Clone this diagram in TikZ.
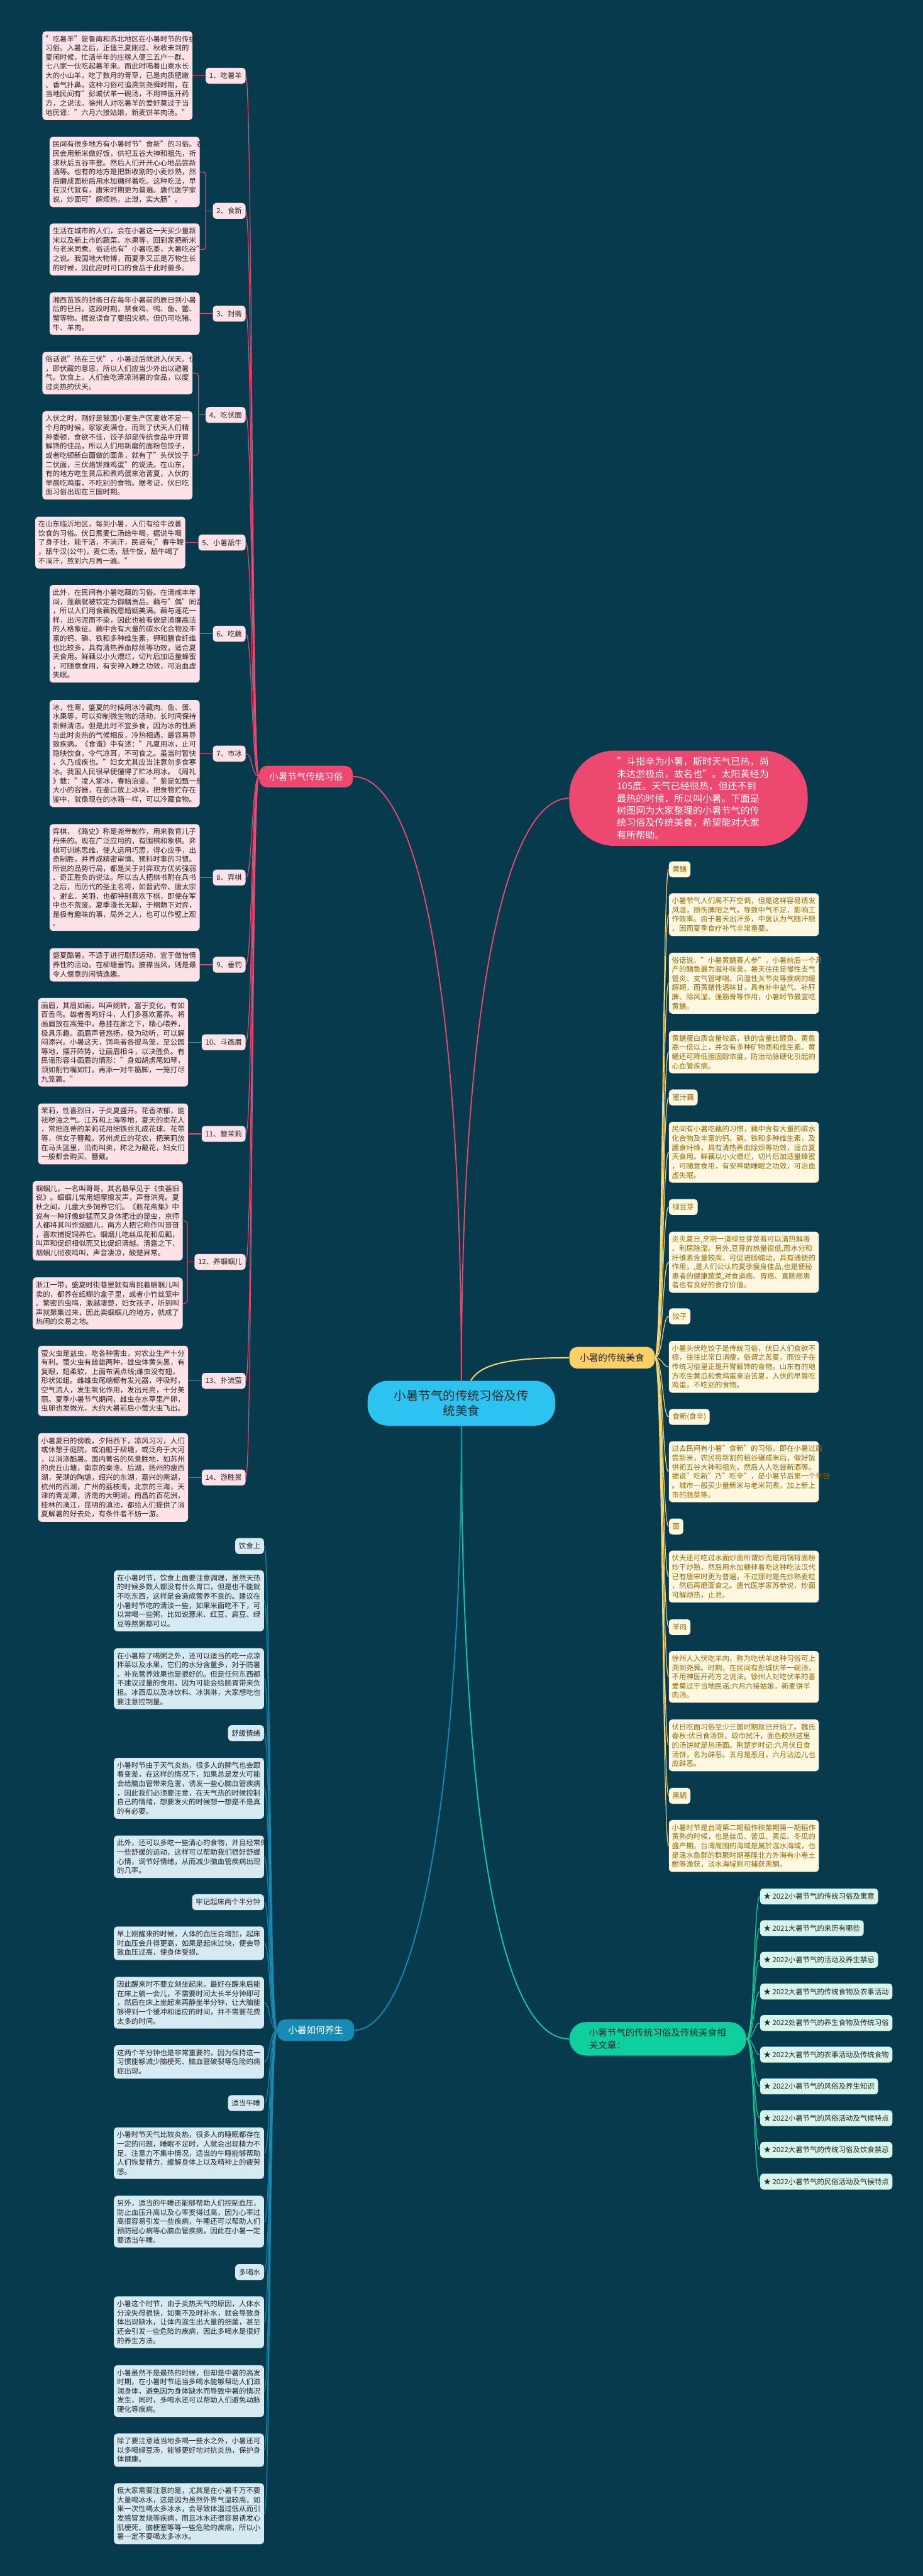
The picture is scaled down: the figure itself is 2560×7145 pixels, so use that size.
\documentclass[tikz,border=0pt]{standalone}
\usepackage{fontspec}
\setmainfont{Noto Sans CJK SC}
\definecolor{bgcol}{RGB}{7,58,76}
\definecolor{darktxt}{RGB}{38,38,38}
\definecolor{pinkmain}{RGB}{236,72,112}
\definecolor{pinkfill}{RGB}{253,226,232}
\definecolor{cyanmain}{RGB}{44,195,240}
\definecolor{goldmain}{RGB}{252,208,104}
\definecolor{goldline}{RGB}{246,212,116}
\definecolor{creamfill}{RGB}{255,248,224}
\definecolor{goldtxt}{RGB}{146,104,10}
\definecolor{bluemain}{RGB}{24,138,180}
\definecolor{bluefill}{RGB}{213,234,242}
\definecolor{greenmain}{RGB}{14,208,158}
\definecolor{mintfill}{RGB}{214,246,236}
\newcommand\smalltxt{\fontsize{5.66pt}{7.25pt}\selectfont}
\newcommand\midtxt{\fontsize{7.25pt}{9.65pt}\selectfont}
\tikzset{
  textbox/.style={rounded corners=0.09cm,text width=113.5pt,align=left,inner xsep=0.085cm,inner ysep=0.115cm,font=\smalltxt},
  tagbox/.style={rounded corners=0.09cm,inner xsep=0.1cm,inner ysep=0pt,minimum height=0.44cm,font=\smalltxt},
  pinkbox/.style={textbox,fill=pinkfill,text=darktxt},
  pinktag/.style={tagbox,fill=pinkfill,text=darktxt,anchor=east},
  goldbox/.style={textbox,fill=creamfill,text=goldtxt,anchor=west},
  goldtag/.style={tagbox,fill=creamfill,text=goldtxt,anchor=west},
  bluebox/.style={textbox,fill=bluefill,text=darktxt,anchor=east},
  bluetag/.style={tagbox,fill=bluefill,text=darktxt,anchor=east},
  arttag/.style={tagbox,fill=mintfill,text=darktxt,anchor=west},
  topicbox/.style={rounded corners=0.22cm,minimum height=0.6cm,inner xsep=0.28cm,font=\midtxt},
  pinkthin/.style={draw=pinkmain,line width=0.6pt},
  goldthin/.style={draw=goldline,line width=0.6pt},
  bluethin/.style={draw=bluemain,line width=0.6pt},
  greenthin/.style={draw=greenmain,line width=0.6pt}
}
\begin{document}
\begin{tikzpicture}[x=0.01cm,y=-0.01cm]
    \fill[bgcol] (0,0) rectangle (2560,7145);
    % centre and main topics
    \node[fill=cyanmain,text=darktxt,rounded corners=0.55cm,minimum width=5.2cm,minimum height=1.24cm,text width=107pt,align=center,font=\fontsize{9.65pt}{11.9pt}\selectfont] (ctr) at (1280,3892) {小暑节气的传统习俗及传\\统美食};
    \node[fill=pinkmain,text=white,rounded corners=1.25cm,minimum width=6.61cm,minimum height=2.64cm,text width=113pt,align=left,font=\fontsize{7.5pt}{9.65pt}\selectfont] (intro) at (1910,2214) {"斗指辛为小暑，斯时天气已热，尚\\未达淤极点，故名也"。太阳黄经为\\105度。天气已经很热，但还不到\\最热的时候，所以叫小暑。下面是\\树图网为大家整理的小暑节气的传\\统习俗及传统美食，希望能对大家\\有所帮助。};
    \node[topicbox,fill=pinkmain,text=white] (br) at (849,2154) {小暑节气传统习俗};
    \node[topicbox,fill=goldmain,text=darktxt,inner xsep=0.29cm] (food) at (1698,3766) {小暑的传统美食};
    \node[topicbox,fill=bluemain,text=white,inner xsep=0.3cm] (yang) at (876,5631) {小暑如何养生};
    \node[fill=greenmain,text=darktxt,rounded corners=0.46cm,minimum width=4.9cm,minimum height=0.93cm,text width=108.5pt,align=left,font=\fontsize{7.2pt}{9.7pt}\selectfont] (art) at (1825,5655) {小暑节气的传统习俗及传统美食相\\关文章：};

    % customs
    \node[pinkbox,anchor=west] (p1) at (117,210) {"吃暑羊"是鲁南和苏北地区在小暑时节的传统\\习俗。入暑之后，正值三夏刚过、秋收未到的\\夏闲时候，忙活半年的庄稼人便三五户一群、\\七八家一伙吃起暑羊来。而此时喝着山泉水长\\大的小山羊，吃了数月的青草，已是肉质肥嫩\\、香气扑鼻。这种习俗可追溯到尧舜时期，在\\当地民间有"彭城伏羊一碗汤，不用神医开药\\方，之说法。徐州人对吃暑羊的爱好莫过于当\\地民谣："六月六接姑娘，新麦饼羊肉汤。"};
    \node[pinkbox,anchor=west] (p2a) at (137,477) {民间有很多地方有小暑时节"食新"的习俗。农\\民会用新米做好饭，供祀五谷大神和祖先，祈\\求秋后五谷丰登。然后人们开开心心地品尝新\\酒等。也有的地方是把新收割的小麦炒熟，然\\后磨成面粉后用水加糖拌着吃。这种吃法，早\\在汉代就有，唐宋时期更为普遍。唐代医学家\\说，炒面可"解烦热，止泄，实大肠"。};
    \node[pinkbox,anchor=west] (p2b) at (137,692) {生活在城市的人们，会在小暑这一天买少量新\\米以及新上市的蔬菜、水果等，回到家把新米\\与老米同煮。俗话也有"小暑吃黍，大暑吃谷"\\之说。我国地大物博，而夏季又正是万物生长\\的时候，因此应时可口的食品于此时最多。};
    \node[pinkbox,anchor=west] (p3) at (137,870) {湘西苗族的封斋日在每年小暑前的辰日到小暑\\后的巳日。这段时期，禁食鸡、鸭、鱼、鳖、\\蟹等物。据说误食了要招灾祸，但仍可吃猪、\\牛、羊肉。};
    \node[pinkbox,anchor=west] (p4a) at (117,1035) {俗话说"热在三伏"，小暑过后就进入伏天。伏\\，即伏藏的意思，所以人们应当少外出以避暑\\气。饮食上，人们会吃清凉消暑的食品，以度\\过炎热的伏天。};
    \node[pinkbox,anchor=west] (p4b) at (117,1263) {入伏之时，刚好是我国小麦生产区麦收不足一\\个月的时候，家家麦满仓，而到了伏天人们精\\神委顿，食欲不佳，饺子却是传统食品中开胃\\解馋的佳品，所以人们用新磨的面粉包饺子，\\或者吃顿新白面做的面条，就有了"头伏饺子\\二伏面，三伏烙饼摊鸡蛋"的说法。在山东，\\有的地方吃生黄瓜和煮鸡蛋来治苦夏，入伏的\\早晨吃鸡蛋，不吃别的食物。据考证，伏日吃\\面习俗出现在三国时期。};
    \node[pinkbox,anchor=west] (p5) at (97,1505) {在山东临沂地区，每到小暑，人们有给牛改善\\饮食的习俗。伏日煮麦仁汤给牛喝，据说牛喝\\了身子壮，能干活，不淌汗，民谣有;"春牛鞭\\，舐牛汉(公牛)，麦仁汤，舐牛饭，舐牛喝了\\不淌汗，熬到六月再一遍。"};
    \node[pinkbox,anchor=west] (p6) at (137,1758) {此外，在民间有小暑吃藕的习俗。在清咸丰年\\间，莲藕就被钦定为御膳贡品。藕与"偶"同音\\，所以人们用食藕祝愿婚姻美满。藕与莲花一\\样，出污泥而不染，因此也被看做是清廉高洁\\的人格象征。藕中含有大量的碳水化合物及丰\\富的钙、磷、铁和多种维生素，钾和膳食纤维\\也比较多，具有清热养血除烦等功效，适合夏\\天食用。鲜藕以小火煨烂，切片后加适量蜂蜜\\，可随意食用，有安神入睡之功效，可治血虚\\失眠。};
    \node[pinkbox,anchor=west] (p7) at (137,2090) {冰，性寒，盛夏的时候用冰冷藏肉、鱼、蛋、\\水果等，可以抑制微生物的活动，长时间保持\\新鲜清洁。但是此时不宜多食，因为冰的性质\\与此时炎热的气候相反，冷热相遇，最容易导\\致疾病。《食谱》中有述："凡夏用冰，止可\\隐映饮食，令气凉耳，不可食之。虽当时暂快\\，久乃成疾也。"妇女尤其应当注意勿多食寒\\冰。我国人民很早便懂得了贮冰用冰。《周礼\\》载："凌人掌冰，春始治鉴。"鉴是如甄一般\\大小的容器，在鉴口放上冰块，把食物贮存在\\鉴中，就像现在的冰箱一样，可以冷藏食物。};
    \node[pinkbox,anchor=west] (p8) at (137,2434) {弈棋，《路史》称是尧帝制作，用来教育儿子\\丹朱的。现在广泛应用的，有围棋和象棋。弈\\棋可训练思维，使人运用巧思，得心应手，出\\奇制胜，并养成精密审慎、预料时事的习惯。\\所说的品势行局，都是关于对弈双方优劣强弱\\、奇正胜负的说法。所以古人把棋书附在兵书\\之后，而历代的圣主名将，如晋武帝、唐太宗\\、谢玄、关羽，也都特别喜欢下棋，即使在军\\中也不荒废。夏季漫长无聊，于桐荫下对弈，\\是极有趣味的事，局外之人，也可以作壁上观\\。};
    \node[pinkbox,anchor=west] (p9) at (137,2676) {盛夏酷暑，不适于进行剧烈运动，宜于做怡情\\养性的活动。在柳塘垂钓。披襟当风，则是最\\令人惬意的闲情逸趣。};
    \node[pinkbox,anchor=west] (p10) at (105,2891) {画眉，其眉如画，叫声婉转，富于变化，有如\\百舌鸟。雄者善鸣好斗，人们多喜欢蓄养。将\\画眉放在高笼中，悬挂在廊之下，精心喂养，\\极具乐趣。画眉声音悠扬，极为动听，可以解\\闷添兴。小暑这天，饲鸟者各提鸟笼，至公园\\等地，摆开阵势，让画眉相斗，以决胜负。有\\民谣形容斗画眉的情形："身如胡虏尾如琴，\\颈如削竹嘴如钉。再添一对牛筋脚，一笼打尽\\九笼赢。"};
    \node[pinkbox,anchor=west] (p11) at (105,3145) {茉莉，性喜烈日，于炎夏盛开。花香浓郁，能\\祛秽浊之气。江苏和上海等地，夏天的卖花人\\，常把连蒂的茉莉花用细铁丝扎成花球、花带\\等，供女子簪戴。苏州虎丘的花农，把茉莉放\\在马头篮里，沿街叫卖，称之为戴花，妇女们\\一般都会购买、簪戴。};
    \node[pinkbox,anchor=west] (p12a) at (90,3386) {蝈蝈儿，一名叫哥哥，其名最早见于《虫荟旧\\说》。蝈蝈儿常用翅摩擦发声，声音洪亮。夏\\秋之间，儿童大多饲养它们。《瓶花斋集》中\\说有一种好像蚌猛而又身体肥壮的昆虫，京师\\人都将其叫作烟蝈儿，南方人把它称作叫哥哥\\，喜欢捕捉饲养它。蝈烟儿吃丝瓜花和瓜瓤，\\叫声和促织相似而又比促织清越。清露之下，\\烟蝈儿彻夜鸣叫，声音凄凉，酸楚异常。};
    \node[pinkbox,anchor=west] (p12b) at (90,3615) {浙江一带，盛夏时街巷里就有肩挑着蝈蝈儿叫\\卖的，都养在纸糊的盒子里，或者小竹丝笼中\\。繁密的虫鸣，激越凄楚，妇女孩子，听到叫\\声就聚集过来，因此卖蝈蝈儿的地方，就成了\\热闹的交易之地。};
    \node[pinkbox,anchor=west] (p13) at (105,3830) {萤火虫是益虫，吃各种害虫，对农业生产十分\\有利。萤火虫有雌雄两种，雄虫体黄头黑，有\\复眼，翅柔软，上面布满点线;雌虫没有翅，\\形状如蛆。雌雄虫尾端都有发光器，呼吸时，\\空气流人，发生氧化作用，发出光亮，十分美\\丽。夏季小暑节气期间，雌虫在水草里产卵，\\虫卵也发微光，大约大暑前后小萤火虫飞出。};
    \node[pinkbox,anchor=west] (p14) at (105,4098) {小暑夏日的傍晚，夕阳西下，凉风习习，人们\\或休憩于庭院，或泊船于柳塘，或泛舟于大河\\，以消涤酷暑。国内著名的风景胜地，如苏州\\的虎丘山塘，南京的秦淮、后湖，扬州的瘦西\\湖，芜湖的陶塘，绍兴的东湖，嘉兴的南湖，\\杭州的西湖，广州的荔枝湾，北京的三海，天\\津的青龙潭，济南的大明湖，南昌的百花洲，\\桂林的漓江，昆明的滇池，都给人们提供了消\\夏解暑的好去处，有条件者不妨一游。};

    \node[pinktag] (t1) at (682,210) {1、吃暑羊};
    \node[pinktag] (t2) at (682,585) {2、食新};
    \node[pinktag] (t3) at (682,870) {3、封斋};
    \node[pinktag] (t4) at (682,1151) {4、吃伏面};
    \node[pinktag] (t5) at (682,1505) {5、小暑舐牛};
    \node[pinktag] (t6) at (682,1758) {6、吃藕};
    \node[pinktag] (t7) at (682,2090) {7、市冰};
    \node[pinktag] (t8) at (682,2434) {8、弈棋};
    \node[pinktag] (t9) at (682,2676) {9、垂钓};
    \node[pinktag] (t10) at (682,2891) {10、斗画眉};
    \node[pinktag] (t11) at (682,3145) {11、簪茉莉};
    \node[pinktag] (t12) at (682,3500) {12、养蝈蝈儿};
    \node[pinktag] (t13) at (682,3830) {13、扑流萤};
    \node[pinktag] (t14) at (682,4098) {14、游胜景};

    % food
    \node[goldtag] (g1) at (1855,2411) {黄鳝};
    \node[goldbox] (y1) at (1855,2537) {小暑节气人们离不开空调，但是这样容易诱发\\风湿，损伤脾阳之气，导致中气不足，影响工\\作效率。由于暑天出汗多，中医认为气随汗脱\\，因而夏季食疗补气非常重要。};
    \node[goldbox] (y2) at (1855,2727) {俗话说，"小暑黄鳝赛人参"，小暑前后一个月\\产的鳝鱼最为滋补味美。暑天往往是慢性支气\\管炎、支气管哮喘、风湿性关节炎等疾病的缓\\解期，而黄鳝性温味甘，具有补中益气、补肝\\脾、除风湿、强筋骨等作用，小暑时节最宜吃\\黄鳝。};
    \node[goldbox] (y3) at (1855,2918) {黄鳝蛋白质含量较高，铁的含量比鲤鱼、黄鱼\\高一倍以上，并含有多种矿物质和维生素。黄\\鳝还可降低胆固醇浓度，防治动脉硬化引起的\\心血管疾病。};
    \node[goldtag] (g2) at (1855,3044) {蜜汁藕};
    \node[goldbox] (y4) at (1855,3196) {民间有小暑吃藕的习惯，藕中含有大量的碳水\\化合物及丰富的钙、磷、铁和多种维生素，及\\膳食纤维，具有清热养血除烦等功效，适合夏\\天食用。鲜藕以小火煨烂，切片后加适量蜂蜜\\，可随意食用，有安神助睡眠之功效，可治血\\虚失眠。};
    \node[goldtag] (g3) at (1855,3348) {绿豆芽};
    \node[goldbox] (y5) at (1855,3501) {炎炎夏日,烹制一道绿豆芽菜肴可以清热解毒\\、利尿除湿。另外,豆芽的热量很低,而水分和\\纤维素含量较高，可促进肠蠕动，具有通便的\\作用，,是人们公认的夏季瘦身佳品,也是便秘\\患者的健康蔬菜,对食道癌、胃癌、直肠癌患\\者也有良好的食疗价值。};
    \node[goldtag] (g4) at (1855,3651) {饺子};
    \node[goldbox] (y6) at (1855,3791) {小暑头伏吃饺子是传统习俗，伏日人们食欲不\\振，往往比常日消瘦，俗谓之苦夏，而饺子在\\传统习俗里正是开胃解馋的食物。山东有的地\\方吃生黄瓜和煮鸡蛋来治苦夏，入伏的早晨吃\\鸡蛋，不吃别的食物。};
    \node[goldtag] (g5) at (1855,3930) {食新(食辛)};
    \node[goldbox] (y7) at (1855,4082) {过去民间有小暑"食新"的习俗，即在小暑过后\\尝新米，农民将新割的稻谷碾成米后，做好饭\\供祀五谷大神和祖先，然后人人吃尝新酒等。\\据说"吃新"乃"吃辛"，是小暑节后第一个辛日\\。城市一般买少量新米与老米同煮，加上新上\\市的蔬菜等。};
    \node[goldtag] (g6) at (1855,4234) {面};
    \node[goldbox] (y8) at (1855,4373) {伏天还可吃过水面炒面所谓炒而是用锅将面粉\\炒干炒熟，然后用水加糖拌着吃这种吃法汉代\\已有唐宋时更为普遍，不过那时是先炒熟麦粒\\，然后再磨面食之。唐代医学家苏恭说，炒面\\可解烦热，止泄。};
    \node[goldtag] (g7) at (1855,4513) {羊肉};
    \node[goldbox] (y9) at (1855,4651) {徐州人入伏吃羊肉，称为吃伏羊这种习俗可上\\溯到尧舜。时期，在民间有彭城伏羊一碗汤，\\不用神医开药方之说法。徐州人对吃伏羊的喜\\爱莫过于当地民谣:六月六接姑娘，新麦饼羊\\肉汤。};
    \node[goldbox] (y10) at (1855,4841) {伏日吃面习俗至少三国时期就已开始了。魏氏\\春秋:伏日食汤饼，取巾拭汗，面色皎然这里\\的汤饼就是热汤面。荆楚岁时记:六月伏日食\\汤饼，名为辟恶。五月是恶月，六月沾边儿也\\应辟恶。};
    \node[goldtag] (g8) at (1855,4981) {黑鲷};
    \node[goldbox] (y11) at (1855,5120) {小暑时节是台湾第二期稻作秧苗期第一期稻作\\黄熟的时候，也是丝瓜、苦瓜、黄瓜、冬瓜的\\盛产期。台湾周围的海域是属於温水海域，也\\是温水鱼群的群聚时期基隆北方外海有小卷土\\鲋等渔获，淡水海域则可捕获黑鲷。};

    % health
    \node[bluetag] (h1) at (733,4288) {饮食上};
    \node[bluebox] (b1) at (733,4440) {在小暑时节，饮食上面要注意调理，虽然天热\\的时候多数人都没有什么胃口，但是也不能就\\不吃东西，这样是会造成营养不良的。建议在\\小暑时节吃的清淡一些，如果米面吃不下，可\\以常喝一些粥，比如说薏米、红豆、扁豆、绿\\豆等熬粥都可以。};
    \node[bluebox] (b2) at (733,4656) {在小暑除了喝粥之外，还可以适当的吃一点凉\\拌菜以及水果，它们的水分含量多，对于防暑\\、补充营养效果也是很好的。但是任何东西都\\不建议过量的食用，因为可能会给肠胃带来负\\担。冰西瓜以及冰饮料、冰淇淋，大家想吃也\\要注意控制量。};
    \node[bluetag] (h2) at (733,4807) {舒缓情绪};
    \node[bluebox] (b3) at (733,4960) {小暑时节由于天气炎热，很多人的脾气也会跟\\着变差，在这样的情况下，如果总是发火可能\\会给脑血管带来危害，诱发一些心脑血管疾病\\，因此我们必须要注意，在天气热的时候控制\\自己的情绪，想要发火的时候想一想是不是真\\的有必要。};
    \node[bluebox] (b4) at (733,5150) {此外，还可以多吃一些清心的食物，并且经常做\\一些舒缓的运动，这样可以帮助我们很好舒缓\\心情，调节好情绪，从而减少脑血管疾病出现\\的几率。};
    \node[bluetag] (h3) at (733,5276) {牢记起床两个半分钟};
    \node[bluebox] (b5) at (733,5390) {早上刚醒来的时候，人体的血压会增加，起床\\时血压会升得更高，如果是起床过快，便会导\\致血压过高，使身体受损。};
    \node[bluebox] (b6) at (733,5555) {因此醒来时不要立刻坐起来，最好在醒来后能\\在床上躺一会儿，不需要时间太长半分钟即可\\，然后在床上坐起来再静坐半分钟，让大脑能\\够得到一个缓冲和适应的时间，并不需要花费\\太多的时间。};
    \node[bluebox] (b7) at (733,5719) {这两个半分钟也是非常重要的，因为保持这一\\习惯能够减少脑梗死、脑血管破裂等危险的病\\症出现。};
    \node[bluetag] (h4) at (733,5833) {适当午睡};
    \node[bluebox] (b8) at (733,5972) {小暑时节天气比较炎热，很多人的睡眠都存在\\一定的问题，睡眠不足时，人就会出现精力不\\足、注意力不集中情况，适当的午睡能够帮助\\人们恢复精力，缓解身体上以及精神上的疲劳\\感。};
    \node[bluebox] (b9) at (733,6162) {另外，适当的午睡还能够帮助人们控制血压，\\防止血压升高以及心率变得过高，因为心率过\\高很容易引发一些疾病，午睡还可以帮助人们\\预防冠心病等心脑血管疾病，因此在小暑一定\\要适当午睡。};
    \node[bluetag] (h5) at (733,6302) {多喝水};
    \node[bluebox] (b10) at (733,6441) {小暑这个时节，由于炎热天气的原因，人体水\\分流失得很快，如果不及时补水，就会导致身\\体出现缺水，让体内滋生出大量的细菌，甚至\\还会引发一些危险的疾病，因此多喝水是很好\\的养生方法。};
    \node[bluebox] (b11) at (733,6632) {小暑虽然不是最热的时候，但却是中暑的高发\\时期，在小暑时节适当多喝水能够帮助人们滋\\润身体，避免因为身体缺水而导致中暑的情况\\发生，同时，多喝水还可以帮助人们避免动脉\\硬化等疾病。};
    \node[bluebox] (b12) at (733,6796) {除了要注意适当地多喝一些水之外，小暑还可\\以多喝绿豆汤，能够更好地对抗炎热，保护身\\体健康。};
    \node[bluebox] (b13) at (733,6972) {但大家需要注意的是，尤其是在小暑千万不要\\大量喝冰水，这是因为虽然外界气温较高，如\\果一次性喝太多冰水，会导致体温过低从而引\\发感冒发烧等疾病，而且冰水还很容易诱发心\\肌梗死、脑梗塞等等一些危险的疾病，所以小\\暑一定不要喝太多冰水。};

    % related articles
    \node[arttag] (a1) at (2108,5260) {★ 2022小暑节气的传统习俗及寓意};
    \node[arttag] (a2) at (2108,5348) {★ 2021大暑节气的来历有哪些};
    \node[arttag] (a3) at (2108,5436) {★ 2022小暑节气的活动及养生禁忌};
    \node[arttag] (a4) at (2108,5524) {★ 2022大暑节气的传统食物及农事活动};
    \node[arttag] (a5) at (2108,5611) {★ 2022处暑节气的养生食物及传统习俗};
    \node[arttag] (a6) at (2108,5699) {★ 2022大暑节气的农事活动及传统食物};
    \node[arttag] (a7) at (2108,5787) {★ 2022小暑节气的风俗及养生知识};
    \node[arttag] (a8) at (2108,5875) {★ 2022小暑节气的风俗活动及气候特点};
    \node[arttag] (a9) at (2108,5963) {★ 2022大暑节气的传统习俗及饮食禁忌};
    \node[arttag] (a10) at (2108,6051) {★ 2022小暑节气的民俗活动及气候特点};

    % main branches
    \draw[pinkmain,line width=0.9pt] (ctr.north) .. controls +(0,-1130) and +(172,0) .. (br.east);
    \draw[pinkmain,line width=0.9pt] (ctr.north) .. controls +(0,-1130) and +(-160,0) .. (intro.west);
    \draw[goldline,line width=1pt] (ctr.67) .. controls +(30,-55) and +(-130,0) .. (food.west);
    \draw[greenmain,line width=0.9pt] (ctr.south) .. controls +(0,1046) and +(-200,0) .. (art.west);
    \draw[bluemain,line width=0.9pt] (ctr.south) .. controls +(0,1046) and +(167,0) .. (yang.east);

    % customs links
    \draw[pinkthin] (br.west) .. controls +(-20,0) and +(18,0) .. (t1.east);
    \draw[pinkthin] (br.west) .. controls +(-20,0) and +(18,0) .. (t2.east);
    \draw[pinkthin] (br.west) .. controls +(-20,0) and +(18,0) .. (t3.east);
    \draw[pinkthin] (br.west) .. controls +(-20,0) and +(18,0) .. (t4.east);
    \draw[pinkthin] (br.west) .. controls +(-20,0) and +(18,0) .. (t5.east);
    \draw[pinkthin] (br.west) .. controls +(-20,0) and +(18,0) .. (t6.east);
    \draw[pinkthin] (br.west) .. controls +(-20,0) and +(18,0) .. (t7.east);
    \draw[pinkthin] (br.west) .. controls +(-20,0) and +(18,0) .. (t8.east);
    \draw[pinkthin] (br.west) .. controls +(-20,0) and +(18,0) .. (t9.east);
    \draw[pinkthin] (br.west) .. controls +(-20,0) and +(18,0) .. (t10.east);
    \draw[pinkthin] (br.west) .. controls +(-20,0) and +(18,0) .. (t11.east);
    \draw[pinkthin] (br.west) .. controls +(-20,0) and +(18,0) .. (t12.east);
    \draw[pinkthin] (br.west) .. controls +(-20,0) and +(18,0) .. (t13.east);
    \draw[pinkthin] (br.west) .. controls +(-20,0) and +(18,0) .. (t14.east);
    \draw[pinkthin] (p1.east) -- (t1.west);
    \draw[pinkthin] (p3.east) -- (t3.west);
    \draw[pinkthin] (p5.east) -- (t5.west);
    \draw[pinkthin] (p6.east) -- (t6.west);
    \draw[pinkthin] (p7.east) -- (t7.west);
    \draw[pinkthin] (p8.east) -- (t8.west);
    \draw[pinkthin] (p9.east) -- (t9.west);
    \draw[pinkthin] (p10.east) -- (t10.west);
    \draw[pinkthin] (p11.east) -- (t11.west);
    \draw[pinkthin] (p13.east) -- (t13.west);
    \draw[pinkthin] (p14.east) -- (t14.west);
    \path (t2.west) ++(-19,0) coordinate (j2);
    \path (t4.west) ++(-19,0) coordinate (j4);
    \path (t12.west) ++(-19,0) coordinate (j12);
    \draw[pinkthin,rounded corners=0.08cm] (p2a.east) -| (j2) |- (p2b.east);
    \draw[pinkthin] (j2) -- (t2.west);
    \draw[pinkthin,rounded corners=0.08cm] (p4a.east) -| (j4) |- (p4b.east);
    \draw[pinkthin] (j4) -- (t4.west);
    \draw[pinkthin,rounded corners=0.08cm] (p12a.east) -| (j12) |- (p12b.east);
    \draw[pinkthin] (j12) -- (t12.west);

    % food links
    \draw[goldthin] (food.east) .. controls +(22,0) and +(-17,0) .. (g1.west);
    \draw[goldthin] (food.east) .. controls +(22,0) and +(-17,0) .. (y1.west);
    \draw[goldthin] (food.east) .. controls +(22,0) and +(-17,0) .. (y2.west);
    \draw[goldthin] (food.east) .. controls +(22,0) and +(-17,0) .. (y3.west);
    \draw[goldthin] (food.east) .. controls +(22,0) and +(-17,0) .. (g2.west);
    \draw[goldthin] (food.east) .. controls +(22,0) and +(-17,0) .. (y4.west);
    \draw[goldthin] (food.east) .. controls +(22,0) and +(-17,0) .. (g3.west);
    \draw[goldthin] (food.east) .. controls +(22,0) and +(-17,0) .. (y5.west);
    \draw[goldthin] (food.east) .. controls +(22,0) and +(-17,0) .. (g4.west);
    \draw[goldthin] (food.east) .. controls +(22,0) and +(-17,0) .. (y6.west);
    \draw[goldthin] (food.east) .. controls +(22,0) and +(-17,0) .. (g5.west);
    \draw[goldthin] (food.east) .. controls +(22,0) and +(-17,0) .. (y7.west);
    \draw[goldthin] (food.east) .. controls +(22,0) and +(-17,0) .. (g6.west);
    \draw[goldthin] (food.east) .. controls +(22,0) and +(-17,0) .. (y8.west);
    \draw[goldthin] (food.east) .. controls +(22,0) and +(-17,0) .. (g7.west);
    \draw[goldthin] (food.east) .. controls +(22,0) and +(-17,0) .. (y9.west);
    \draw[goldthin] (food.east) .. controls +(22,0) and +(-17,0) .. (y10.west);
    \draw[goldthin] (food.east) .. controls +(22,0) and +(-17,0) .. (g8.west);
    \draw[goldthin] (food.east) .. controls +(22,0) and +(-17,0) .. (y11.west);

    % health links
    \draw[bluethin] (yang.west) .. controls +(-22,0) and +(17,0) .. (h1.east);
    \draw[bluethin] (yang.west) .. controls +(-22,0) and +(17,0) .. (b1.east);
    \draw[bluethin] (yang.west) .. controls +(-22,0) and +(17,0) .. (b2.east);
    \draw[bluethin] (yang.west) .. controls +(-22,0) and +(17,0) .. (h2.east);
    \draw[bluethin] (yang.west) .. controls +(-22,0) and +(17,0) .. (b3.east);
    \draw[bluethin] (yang.west) .. controls +(-22,0) and +(17,0) .. (b4.east);
    \draw[bluethin] (yang.west) .. controls +(-22,0) and +(17,0) .. (h3.east);
    \draw[bluethin] (yang.west) .. controls +(-22,0) and +(17,0) .. (b5.east);
    \draw[bluethin] (yang.west) .. controls +(-22,0) and +(17,0) .. (b6.east);
    \draw[bluethin] (yang.west) .. controls +(-22,0) and +(17,0) .. (b7.east);
    \draw[bluethin] (yang.west) .. controls +(-22,0) and +(17,0) .. (h4.east);
    \draw[bluethin] (yang.west) .. controls +(-22,0) and +(17,0) .. (b8.east);
    \draw[bluethin] (yang.west) .. controls +(-22,0) and +(17,0) .. (b9.east);
    \draw[bluethin] (yang.west) .. controls +(-22,0) and +(17,0) .. (h5.east);
    \draw[bluethin] (yang.west) .. controls +(-22,0) and +(17,0) .. (b10.east);
    \draw[bluethin] (yang.west) .. controls +(-22,0) and +(17,0) .. (b11.east);
    \draw[bluethin] (yang.west) .. controls +(-22,0) and +(17,0) .. (b12.east);
    \draw[bluethin] (yang.west) .. controls +(-22,0) and +(17,0) .. (b13.east);

    % article links
    \draw[greenthin] (art.east) .. controls +(22,0) and +(-17,0) .. (a1.west);
    \draw[greenthin] (art.east) .. controls +(22,0) and +(-17,0) .. (a2.west);
    \draw[greenthin] (art.east) .. controls +(22,0) and +(-17,0) .. (a3.west);
    \draw[greenthin] (art.east) .. controls +(22,0) and +(-17,0) .. (a4.west);
    \draw[greenthin] (art.east) .. controls +(22,0) and +(-17,0) .. (a5.west);
    \draw[greenthin] (art.east) .. controls +(22,0) and +(-17,0) .. (a6.west);
    \draw[greenthin] (art.east) .. controls +(22,0) and +(-17,0) .. (a7.west);
    \draw[greenthin] (art.east) .. controls +(22,0) and +(-17,0) .. (a8.west);
    \draw[greenthin] (art.east) .. controls +(22,0) and +(-17,0) .. (a9.west);
    \draw[greenthin] (art.east) .. controls +(22,0) and +(-17,0) .. (a10.west);
\end{tikzpicture}
\end{document}
